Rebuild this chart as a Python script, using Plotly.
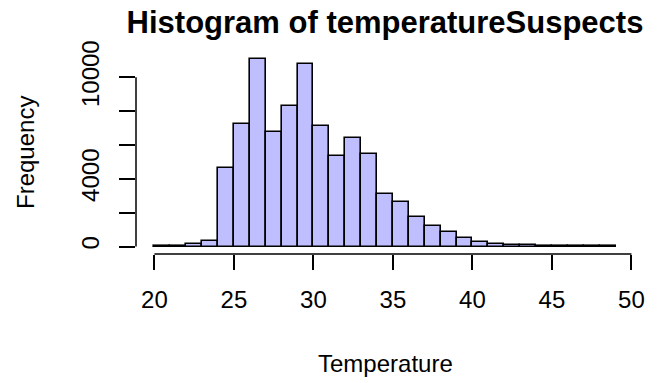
import plotly.graph_objects as go

# Histogram bins (Temperature, width 1) and counts
bin_left = list(range(20, 49))
counts = [50, 60, 160, 300, 4630, 7260, 11050, 6770, 8320, 10790, 7120, 5370,
          6410, 5460, 3120, 2620, 1720, 1240, 850, 530, 260, 150, 110, 75,
          50, 30, 20, 15, 10]
x_ticks = [20, 25, 30, 35, 40, 45, 50]
y_ticks = [0, 2000, 4000, 6000, 8000, 10000]
y_ticktext = ["0", "", "4000", "", "", "10000"]

centers = [b + 0.5 for b in bin_left]
xmin, xmax = bin_left[0], bin_left[-1] + 1
ymax = max(counts)
xpad = 0.04 * (xmax - xmin)
ypad = 0.04 * ymax

FONT = "Liberation Sans, Arial, sans-serif"

fig = go.Figure()
fig.add_trace(go.Bar(
    x=centers, y=counts, width=1,
    marker=dict(color="rgb(191,191,255)", line=dict(color="black", width=1.6)),
    showlegend=False, hoverinfo="x+y",
))

fig.update_layout(
    width=657, height=383,
    margin=dict(l=136, r=18, t=52, b=129),
    paper_bgcolor="white", plot_bgcolor="white",
    font=dict(family=FONT, size=24, color="black"),
    bargap=0,
    title=dict(text="Histogram of temperatureSuspects", x=0.5, xref="paper",
               xanchor="center", y=1 - 22 / 383, yref="container", yanchor="middle",
               font=dict(family=FONT, size=31, weight="bold", color="black")),
    xaxis=dict(range=[xmin - xpad, xmax + xpad], tickvals=x_ticks,
               ticks="outside", ticklen=15, tickwidth=1.5, tickcolor="black",
               showgrid=False, zeroline=False, showline=False,
               ticklabelstandoff=9, fixedrange=True),
    yaxis=dict(range=[-ypad, ymax + ypad], tickvals=y_ticks, ticktext=y_ticktext,
               tickangle=-90, ticks="outside", ticklen=16, tickwidth=1.5,
               tickcolor="black", showgrid=False, zeroline=False, showline=False,
               ticklabelstandoff=10, fixedrange=True),
    annotations=[
        dict(text="Temperature", xref="paper", yref="paper", x=0.5, y=0,
             xanchor="center", yanchor="middle", yshift=-109, showarrow=False,
             font=dict(size=24)),
        dict(text="Frequency", xref="paper", yref="paper", x=0, y=0.5,
             xanchor="center", yanchor="middle", xshift=-111, textangle=-90,
             showarrow=False, font=dict(size=24)),
    ],
    shapes=[
        dict(type="line", xref="x", yref="paper", x0=x_ticks[0], x1=x_ticks[-1],
             y0=0, y1=0, line=dict(color="black", width=1.5)),
        dict(type="line", xref="paper", yref="y", x0=0, x1=0,
             y0=y_ticks[0], y1=y_ticks[-1], line=dict(color="black", width=1.5)),
    ],
)

fig.write_html("out.html")
